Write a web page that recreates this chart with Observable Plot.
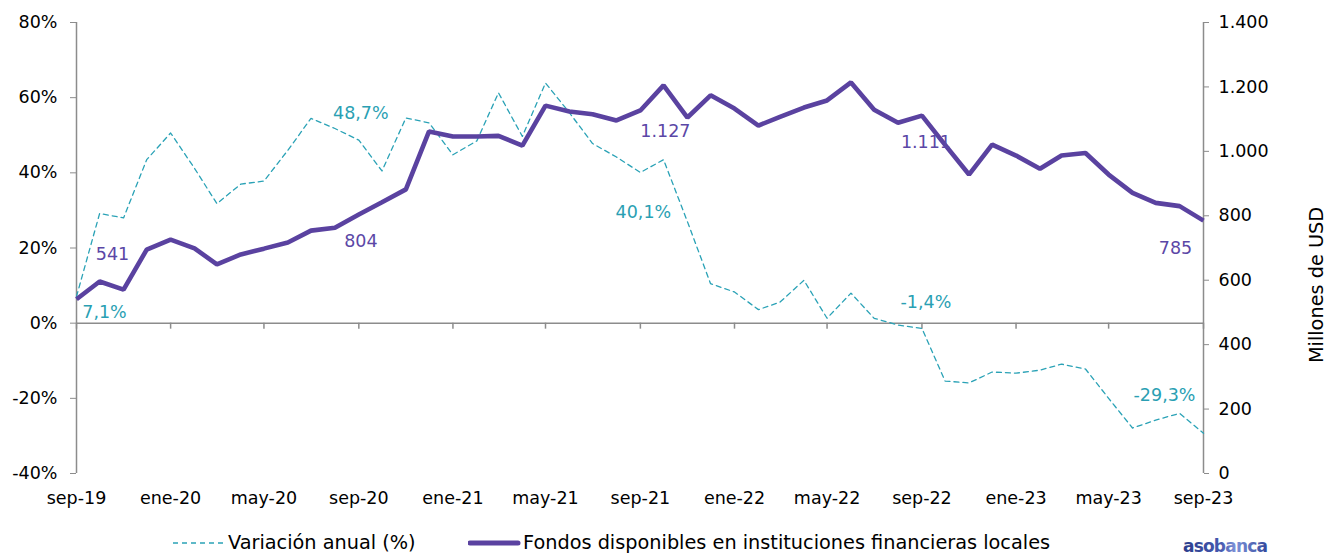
<!DOCTYPE html>
<html><head><meta charset="utf-8">
<script src="https://cdn.jsdelivr.net/npm/d3@7"></script>
<script src="https://cdn.jsdelivr.net/npm/@observablehq/plot@0.6"></script>
<style>
body{margin:0;background:#fff;font-family:"DejaVu Sans",sans-serif;}
#wrap{position:relative;width:1338px;height:556px;overflow:hidden;}
#chart svg{display:block;}
.leg{position:absolute;top:531px;font-size:19.3px;color:#000;white-space:nowrap;line-height:24px;}
#logo{position:absolute;left:1180px;top:532px;}
</style></head><body>
<div id="wrap">
  <div id="chart"></div>
  <div class="leg" style="left:173px;"><svg width="52" height="24" style="vertical-align:top"><line x1="0" x2="50" y1="12" y2="12" stroke="#2aa2b6" stroke-width="1.3" stroke-dasharray="5,4"/></svg><span style="position:relative;left:3px">Variación anual (%)</span></div>
  <div class="leg" style="left:468px;"><svg width="54" height="24" style="vertical-align:top"><line x1="2" x2="50" y1="12" y2="12" stroke="#5a42a0" stroke-width="5" stroke-linecap="round"/></svg><span style="position:relative;left:1px">Fondos disponibles en instituciones financieras locales</span></div>
  <svg id="logo" width="100" height="24"><defs><linearGradient id="lg" x1="0" x2="1" y1="0" y2="0"><stop offset="0" stop-color="#2b3d8c"/><stop offset="0.45" stop-color="#4559b0"/><stop offset="0.62" stop-color="#7d92d8"/><stop offset="1" stop-color="#33479c"/></linearGradient></defs><text x="3" y="20" font-family="DejaVu Sans, sans-serif" font-size="17" font-weight="700" letter-spacing="-0.8" fill="url(#lg)">asobanca</text></svg>
</div>
<script>
// ---- data ----
const startMonth = new Date(Date.UTC(2019, 8, 1));
const endMonth = new Date(Date.UTC(2023, 8, 1));
const monthNames = ["ene","feb","mar","abr","may","jun","jul","ago","sep","oct","nov","dic"];
const variacion = [7.1, 29.2, 28.0, 43.5, 50.6, 41.2, 31.8, 37.0, 37.8, 46.0, 54.5, 51.8, 48.7,
  40.5, 54.6, 53.3, 44.8, 48.5, 61.3, 49.7, 63.9, 56.0, 47.8, 44.2, 40.1,
  43.5, 27.0, 10.5, 8.3, 3.6, 5.6, 11.4, 1.3, 8.0, 1.3, -0.5, -1.4,
  -15.4, -15.9, -13.0, -13.3, -12.5, -10.9, -12.2, -20.0, -27.9, -25.8, -24.0, -29.3];
const fondos = [541, 596, 571, 695, 726, 699, 649, 680, 698, 717, 754, 763, 804,
  842, 882, 1062, 1046, 1046, 1048, 1018, 1142, 1124, 1115, 1096, 1127,
  1205, 1105, 1174, 1133, 1080, 1107, 1136, 1158, 1214, 1129, 1089, 1111,
  1020, 928, 1021, 987, 946, 987, 995, 928, 871, 840, 830, 785];
const pctTicks = [-40, -20, 0, 20, 40, 60, 80];
const usdTicks = [0, 200, 400, 600, 800, 1000, 1200, 1400];
const labelIdx = [0, 12, 24, 36, 48];
const rightTitle = "Millones de USD";

// ---- styling / layout ----
const TEAL = "#2aa2b6", TEAL_TXT = "#2a9fb3", PURPLE = "#5a42a0", PURPLE_TXT = "#5b47a6", AXIS = "#8c8c8c";
const FONT = '"DejaVu Sans", sans-serif';
const FS = 17.5;
const varOffsets = [[28, 16], [2, -27], [3, 40], [4, -26], [-39, -38]];
const fonOffsets = [[36, -45], [2, 27], [25, 21], [4, 27], [-28, 28]];

const loc = d3.formatLocale({decimal: ",", thousands: ".", grouping: [3], currency: ["$", ""], minus: "-"});
const fmtInt = loc.format(",.0f");
const fmtPct = v => loc.format(".1f")(v) + "%";

const dates = d3.utcMonth.range(startMonth, d3.utcMonth.offset(endMonth, 1));
const rows = dates.map((d, i) => ({date: d, variacion: variacion[i], fondos: fondos[i]}));
const toPct = d3.scaleLinear([0, 1400], [-40, 80]);
const xTicks = d3.utcMonth.every(4).range(startMonth, d3.utcMonth.offset(endMonth, 1));
const fmtMonth = d => monthNames[d.getUTCMonth()] + "-" + String(d.getUTCFullYear()).slice(2);

const varLabels = labelIdx.map((i, k) => ({...rows[i], dx: varOffsets[k][0], dy: varOffsets[k][1]}));
const fonLabels = labelIdx.map((i, k) => ({...rows[i], dx: fonOffsets[k][0], dy: fonOffsets[k][1]}));

const marks = [
  Plot.ruleY([0], {stroke: AXIS, strokeWidth: 1.5}),
  Plot.ruleX([startMonth, endMonth], {stroke: AXIS, strokeWidth: 1.5}),
  Plot.ruleX(xTicks, {x: d => d, y1: 0, y2: 0, insetBottom: -6, stroke: AXIS, strokeWidth: 1.5}),
  Plot.axisY({ticks: pctTicks, tickFormat: d => d + "%", tickSize: 6, tickPadding: 13, stroke: AXIS, fill: "#000", label: null}),
  Plot.axisY({anchor: "right", ticks: usdTicks.map(v => toPct(v)), tickFormat: d => fmtInt(Math.round(toPct.invert(d))), tickSize: 5, tickPadding: 10, stroke: AXIS, fill: "#000", label: null}),
  Plot.axisX({ticks: xTicks, tickFormat: fmtMonth, tickSize: 0, tickPadding: 18, fill: "#000", label: null}),
  Plot.text([rightTitle], {frameAnchor: "right", textAnchor: "middle", rotate: -90, dx: 113, dy: 37, fill: "#000", fontSize: 19.3}),
  Plot.line(rows, {x: "date", y: "variacion", stroke: TEAL, strokeWidth: 1.3, strokeDasharray: "5,4"}),
  Plot.line(rows, {x: "date", y: d => toPct(d.fondos), stroke: PURPLE, strokeWidth: 4.6, strokeLinejoin: "miter", strokeLinecap: "butt"}),
];
varLabels.forEach(d => marks.push(Plot.text([d], {x: "date", y: "variacion", text: r => fmtPct(r.variacion), dx: d.dx, dy: d.dy, fill: TEAL_TXT, fontSize: FS})));
fonLabels.forEach(d => marks.push(Plot.text([d], {x: "date", y: r => toPct(r.fondos), text: r => fmtInt(r.fondos), dx: d.dx, dy: d.dy, fill: PURPLE_TXT, fontSize: FS})));

const chart = Plot.plot({
  width: 1338, height: 520,
  marginTop: 22, marginBottom: 47, marginLeft: 76, marginRight: 135,
  style: {fontFamily: FONT, fontSize: FS + "px", color: "#000", background: "transparent", overflow: "visible"},
  x: {type: "utc", domain: [startMonth, endMonth]},
  y: {domain: [-40, 80]},
  marks
});
document.getElementById("chart").appendChild(chart);
</script>
</body></html>
